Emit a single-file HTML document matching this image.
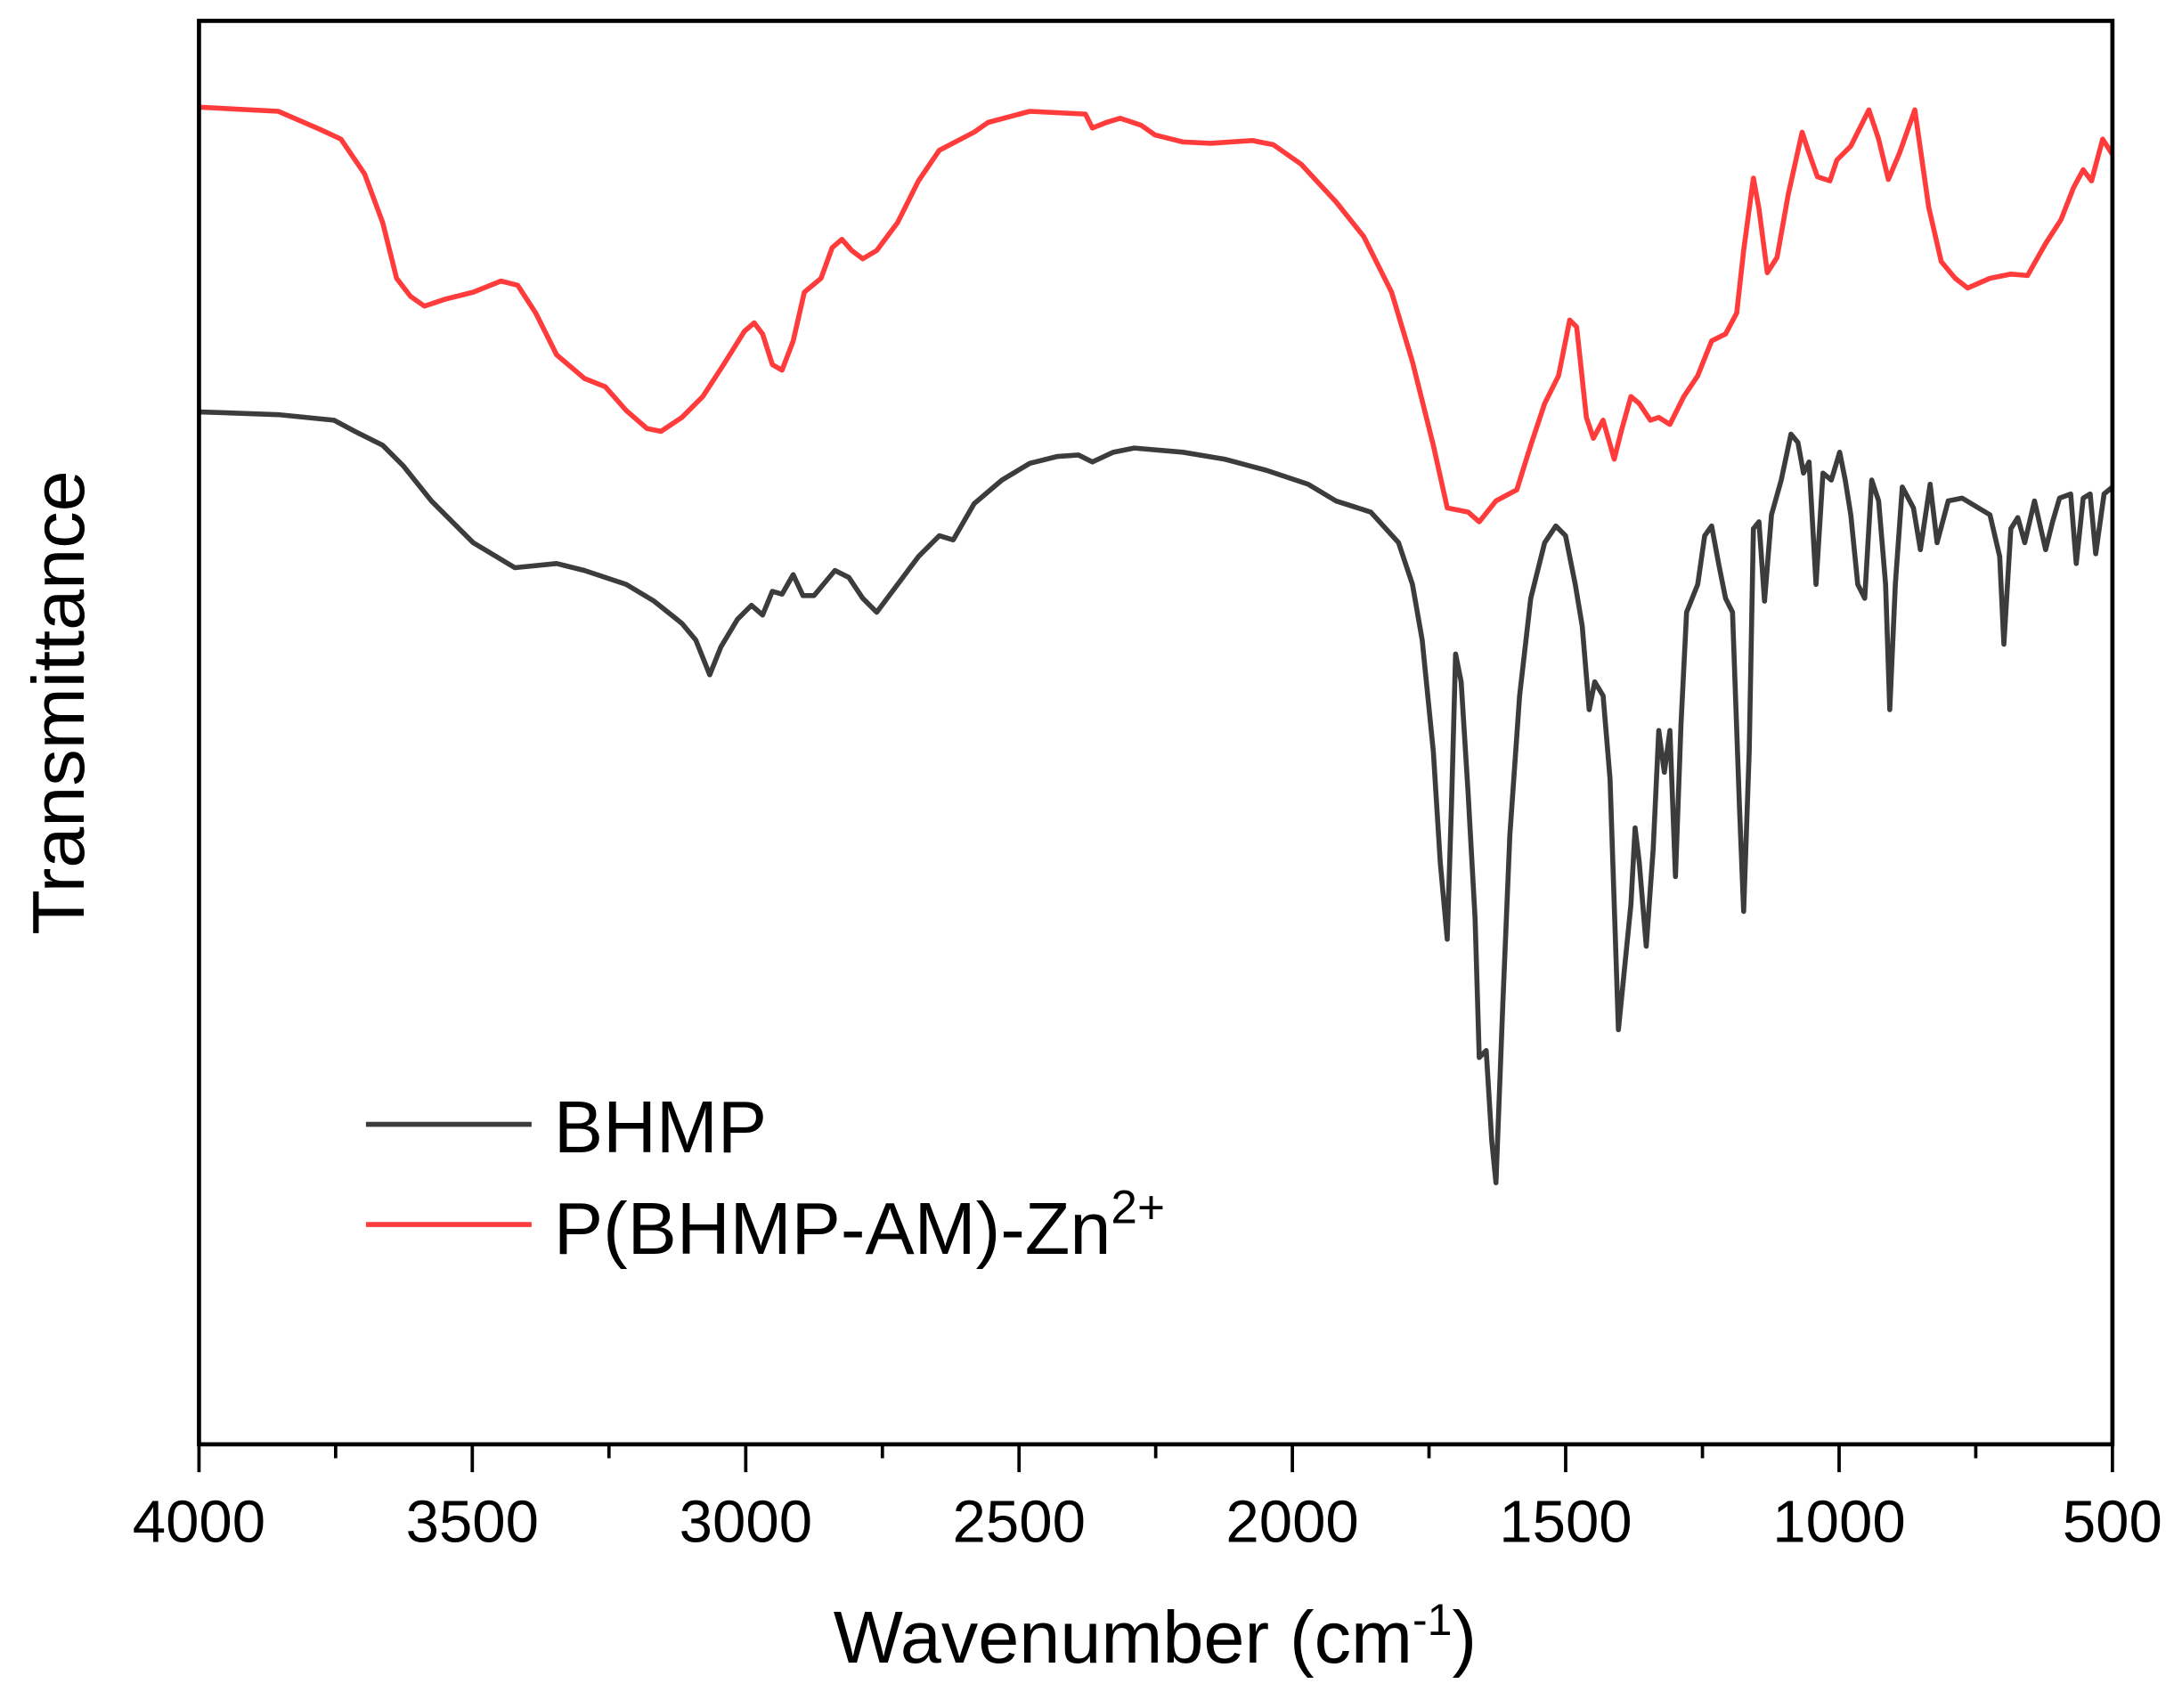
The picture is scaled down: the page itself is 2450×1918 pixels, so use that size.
<!DOCTYPE html>
<html><head><meta charset="utf-8"><style>html,body{margin:0;padding:0;background:#fff}svg{display:block}</style></head>
<body>
<svg width="2450" height="1918" viewBox="0 0 1568 1227.5" preserveAspectRatio="none" xmlns="http://www.w3.org/2000/svg" font-family="Liberation Sans, Arial, sans-serif">
<rect width="1568" height="1227.5" fill="#fff"/>
<polyline fill="none" stroke="#ff3b3b" stroke-width="3.6" stroke-linejoin="round" points="143,77 200,80 230,93 245,100 262,125 275,160 285,200 295,213 305,220 320,215 340,210 360,202 372,205 385,225 400,255 420,272 435,278 450,295 465,308 475,310 490,300 505,285 520,262 535,238 542,232 548,240 555,262 562,266 570,245 578,210 590,200 598,178 605,172 612,180 620,186 630,180 645,160 660,130 675,108 700,95 710,88 740,80 780,82 785,92 795,88 805,85 820,90 830,97 850,102 870,103 900,101 915,104 935,118 960,145 980,170 1000,210 1015,260 1030,320 1040,365 1055,368 1063,375 1075,360 1090,352 1100,320 1110,290 1120,270 1128,230 1133,235 1140,300 1145,315 1152,302 1160,330 1165,310 1172,285 1178,290 1186,302 1192,300 1200,305 1210,285 1220,270 1230,245 1240,240 1248,225 1253,180 1260,128 1264,150 1270,196 1277,185 1285,140 1295,95 1300,110 1306,127 1315,130 1320,115 1330,105 1343,79 1350,100 1357,129 1365,110 1376,79 1386,149 1395,188 1405,200 1414,207 1430,200 1445,197 1457,198 1470,175 1481,158 1490,135 1497,122 1503,130 1511,100 1518,111"/>
<polyline fill="none" stroke="#3c3c3c" stroke-width="3.6" stroke-linejoin="round" points="143,296 200,298 240,302 255,310 275,320 290,335 310,360 340,390 370,408 400,405 420,410 450,420 470,432 490,448 500,460 510,485 518,465 530,445 540,435 548,442 555,425 562,427 570,413 577,428 585,428 600,410 610,415 620,430 630,440 645,420 660,400 675,385 685,388 700,362 720,345 740,333 760,328 775,327 785,332 800,325 815,322 850,325 880,330 910,338 940,348 960,360 985,368 1005,390 1015,420 1022,460 1030,540 1035,620 1040,675 1043,580 1046,470 1050,490 1055,570 1060,660 1063,760 1068,755 1072,820 1075,850 1080,720 1085,600 1092,500 1100,430 1110,390 1118,378 1125,385 1132,420 1137,450 1142,510 1146,490 1152,500 1157,560 1160,650 1163,740 1167,700 1172,650 1175,595 1178,620 1183,680 1188,610 1192,525 1196,555 1200,525 1204,630 1208,520 1212,440 1220,420 1225,385 1230,378 1235,405 1240,430 1245,440 1250,580 1253,655 1257,540 1260,380 1264,375 1268,432 1273,370 1280,345 1287,312 1292,318 1296,340 1300,332 1305,420 1310,340 1316,345 1322,325 1326,345 1330,370 1335,420 1340,430 1345,345 1350,360 1355,420 1358,510 1362,420 1367,350 1375,365 1380,395 1387,348 1392,390 1400,360 1410,358 1430,370 1437,400 1440,463 1445,380 1450,372 1455,390 1462,360 1470,395 1475,375 1480,358 1488,355 1492,405 1497,358 1502,355 1506,398 1512,355 1518,350"/>
<rect x="143" y="15" width="1375" height="1023" fill="none" stroke="#000" stroke-width="3"/>
<g stroke="#000" stroke-width="2.4">
<line x1="143" y1="1038" x2="143" y2="1058"/><line x1="241.2" y1="1038" x2="241.2" y2="1048"/>
<line x1="339.4" y1="1038" x2="339.4" y2="1058"/><line x1="437.6" y1="1038" x2="437.6" y2="1048"/>
<line x1="535.9" y1="1038" x2="535.9" y2="1058"/><line x1="634.1" y1="1038" x2="634.1" y2="1048"/>
<line x1="732.3" y1="1038" x2="732.3" y2="1058"/><line x1="830.5" y1="1038" x2="830.5" y2="1048"/>
<line x1="928.7" y1="1038" x2="928.7" y2="1058"/><line x1="1026.9" y1="1038" x2="1026.9" y2="1048"/>
<line x1="1125.1" y1="1038" x2="1125.1" y2="1058"/><line x1="1223.4" y1="1038" x2="1223.4" y2="1048"/>
<line x1="1321.6" y1="1038" x2="1321.6" y2="1058"/><line x1="1419.8" y1="1038" x2="1419.8" y2="1048"/>
<line x1="1518" y1="1038" x2="1518" y2="1058"/>
</g>
<g font-size="43" text-anchor="middle" fill="#000">
<text x="143" y="1108">4000</text><text x="339.4" y="1108">3500</text><text x="535.9" y="1108">3000</text>
<text x="732.3" y="1108">2500</text><text x="928.7" y="1108">2000</text><text x="1125.1" y="1108">1500</text>
<text x="1321.6" y="1108">1000</text><text x="1518" y="1108">500</text>
</g>
<text x="830" y="1195" font-size="53" text-anchor="middle">Wavenumber (cm<tspan dy="-20" font-size="32">-1</tspan><tspan dy="20">)</tspan></text>
<text transform="translate(60,505) rotate(-90)" font-size="53" text-anchor="middle">Transmittance</text>
<line x1="263" y1="808" x2="382" y2="808" stroke="#3c3c3c" stroke-width="3.6"/>
<text x="398" y="828" font-size="53">BHMP</text>
<line x1="263" y1="880" x2="382" y2="880" stroke="#ff3b3b" stroke-width="3.6"/>
<text x="398" y="901" font-size="53">P(BHMP-AM)-Zn<tspan dy="-22" font-size="34">2+</tspan></text>
</svg>
</body></html>
